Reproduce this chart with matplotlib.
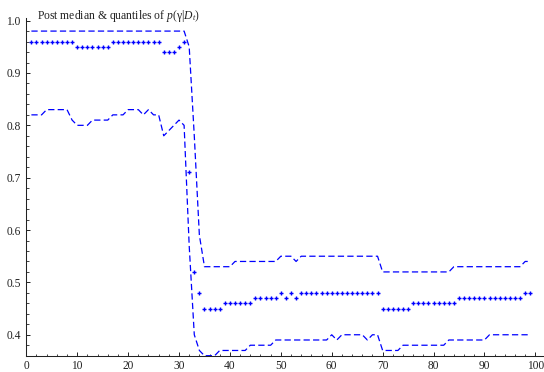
import matplotlib
matplotlib.use("Agg")
import matplotlib.pyplot as plt
from matplotlib.ticker import MultipleLocator

plt.rcParams['font.family'] = ['Liberation Serif', 'DejaVu Serif']
plt.rcParams['mathtext.fontset'] = 'custom'
plt.rcParams['mathtext.rm'] = 'Liberation Serif'
plt.rcParams['mathtext.it'] = 'Liberation Serif:italic'

# time index t = 1..99
t = list(range(1, 100))

# posterior median of gamma
median = [
    0.96, 0.96, 0.96, 0.96, 0.96, 0.96, 0.96, 0.96, 0.96, 0.95,
    0.95, 0.95, 0.95, 0.95, 0.95, 0.95, 0.96, 0.96, 0.96, 0.96,
    0.96, 0.96, 0.96, 0.96, 0.96, 0.96, 0.94, 0.94, 0.94, 0.95,
    0.96, 0.71, 0.52, 0.48, 0.45, 0.45, 0.45, 0.45, 0.46, 0.46,
    0.46, 0.46, 0.46, 0.46, 0.47, 0.47, 0.47, 0.47, 0.47, 0.48,
    0.47, 0.48, 0.47, 0.48, 0.48, 0.48, 0.48, 0.48, 0.48, 0.48,
    0.48, 0.48, 0.48, 0.48, 0.48, 0.48, 0.48, 0.48, 0.48, 0.45,
    0.45, 0.45, 0.45, 0.45, 0.45, 0.46, 0.46, 0.46, 0.46, 0.46,
    0.46, 0.46, 0.46, 0.46, 0.47, 0.47, 0.47, 0.47, 0.47, 0.47,
    0.47, 0.47, 0.47, 0.47, 0.47, 0.47, 0.47, 0.48, 0.48,
]

# upper quantile
upper = [
    0.98, 0.98, 0.98, 0.98, 0.98, 0.98, 0.98, 0.98, 0.98, 0.98,
    0.98, 0.98, 0.98, 0.98, 0.98, 0.98, 0.98, 0.98, 0.98, 0.98,
    0.98, 0.98, 0.98, 0.98, 0.98, 0.98, 0.98, 0.98, 0.98, 0.98,
    0.98, 0.95, 0.78, 0.59, 0.53, 0.53, 0.53, 0.53, 0.53, 0.53,
    0.54, 0.54, 0.54, 0.54, 0.54, 0.54, 0.54, 0.54, 0.54, 0.55,
    0.55, 0.55, 0.54, 0.55, 0.55, 0.55, 0.55, 0.55, 0.55, 0.55,
    0.55, 0.55, 0.55, 0.55, 0.55, 0.55, 0.55, 0.55, 0.55, 0.52,
    0.52, 0.52, 0.52, 0.52, 0.52, 0.52, 0.52, 0.52, 0.52, 0.52,
    0.52, 0.52, 0.52, 0.53, 0.53, 0.53, 0.53, 0.53, 0.53, 0.53,
    0.53, 0.53, 0.53, 0.53, 0.53, 0.53, 0.53, 0.54, 0.54,
]

# lower quantile
lower = [
    0.82, 0.82, 0.82, 0.83, 0.83, 0.83, 0.83, 0.83, 0.81, 0.80,
    0.80, 0.80, 0.81, 0.81, 0.81, 0.81, 0.82, 0.82, 0.82, 0.83,
    0.83, 0.83, 0.82, 0.83, 0.82, 0.82, 0.78, 0.79, 0.80, 0.81,
    0.80, 0.57, 0.40, 0.37, 0.36, 0.36, 0.36, 0.37, 0.37, 0.37,
    0.37, 0.37, 0.37, 0.38, 0.38, 0.38, 0.38, 0.38, 0.39, 0.39,
    0.39, 0.39, 0.39, 0.39, 0.39, 0.39, 0.39, 0.39, 0.39, 0.40,
    0.39, 0.40, 0.40, 0.40, 0.40, 0.40, 0.39, 0.40, 0.40, 0.37,
    0.37, 0.37, 0.37, 0.38, 0.38, 0.38, 0.38, 0.38, 0.38, 0.38,
    0.38, 0.38, 0.39, 0.39, 0.39, 0.39, 0.39, 0.39, 0.39, 0.39,
    0.40, 0.40, 0.40, 0.40, 0.40, 0.40, 0.40, 0.40, 0.40,
]

title = r"Post median & quantiles of $p(\mathrm{\gamma}|D_t)$"

W, H = 544, 372
fig = plt.figure(figsize=(W / 100, H / 100), dpi=100)
# axes box in pixels: left 26.3, right edge of figure, bottom 355.7, top 18
ax = fig.add_axes([26.3 / W, (H - 355.7) / H, (W - 26.3) / W, (355.7 - 18) / H])

blue = (0.0, 0.0, 1.0)
ax.plot(t, upper, color=blue, lw=0.9, ls=(0, (5, 2.6)))
ax.plot(t, lower, color=blue, lw=0.9, ls=(0, (5, 2.6)))
ax.plot(t, median, ls='none', marker='+', ms=3.0, mew=1.0, color=blue)

ax.set_xlim(0, 101.7)
ax.set_ylim(0.36, 1.005)

for s in ['top', 'right']:
    ax.spines[s].set_visible(False)
for s in ['left', 'bottom']:
    ax.spines[s].set_linewidth(0.75)
    ax.spines[s].set_color('#222222')

ax.xaxis.set_major_locator(MultipleLocator(10))
ax.xaxis.set_minor_locator(MultipleLocator(2))
ax.yaxis.set_major_locator(MultipleLocator(0.1))
ax.yaxis.set_minor_locator(MultipleLocator(0.02))
ax.yaxis.set_major_formatter(plt.FuncFormatter(lambda v, p: "%.1f" % v))

ax.tick_params(which='major', direction='in', length=3.2, width=0.7,
               color='#222222', labelsize=8.3, labelcolor='#222222', pad=3)
ax.tick_params(which='minor', direction='in', length=1.8, width=0.6, color='#222222')
ax.tick_params(axis='y', pad=4)

fig.text(36.7 / W, 1 - 19.5 / H, title, fontsize=8.4, color='#222222',
         ha='left', va='baseline')

fig.savefig("out.png", dpi=100)
